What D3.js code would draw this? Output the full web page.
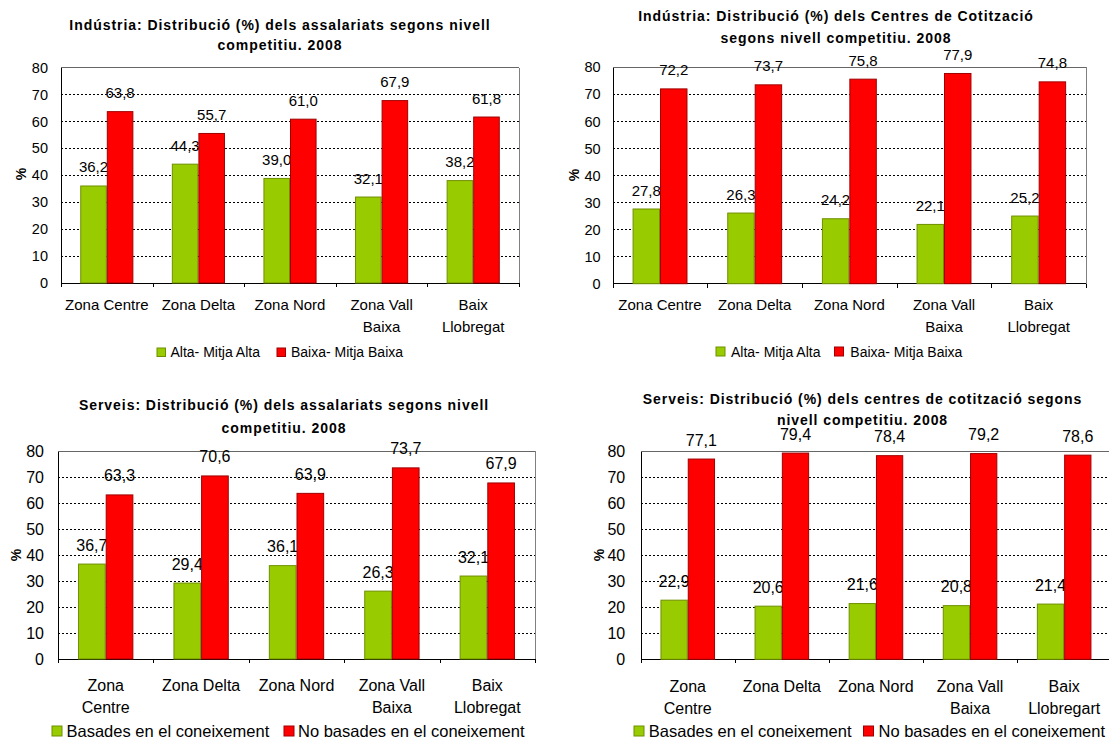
<!DOCTYPE html>
<html>
<head>
<meta charset="utf-8">
<script src="https://cdn.jsdelivr.net/npm/d3@7"></script>
<style>
  body { margin: 0; background: #fff; }
  svg { display: block; }
  text { font-family: "Liberation Sans", Arial, sans-serif; fill: #000; }
</style>
</head>
<body>
<svg id="chart" width="1109" height="740"></svg>
<script>
// ---------- DATA ----------
const categoriesTop = ["Zona Centre", "Zona Delta", "Zona Nord", "Zona Vall\nBaixa", "Baix\nLlobregat"];
const categoriesServeisAssal = ["Zona\nCentre", "Zona Delta", "Zona Nord", "Zona Vall\nBaixa", "Baix\nLlobregat"];
const categoriesServeisCentres = ["Zona\nCentre", "Zona Delta", "Zona Nord", "Zona Vall\nBaixa", "Baix\nLlobregart"];

const seriesIndustria = ["Alta- Mitja Alta", "Baixa- Mitja Baixa"];
const seriesServeis = ["Basades en el coneixement", "No basades en el coneixement"];

const indAssalAlta  = [36.2, 44.3, 39.0, 32.1, 38.2];
const indAssalBaixa = [63.8, 55.7, 61.0, 67.9, 61.8];

const indCentresAlta  = [27.8, 26.3, 24.2, 22.1, 25.2];
const indCentresBaixa = [72.2, 73.7, 75.8, 77.9, 74.8];

const servAssalBasades   = [36.7, 29.4, 36.1, 26.3, 32.1];
const servAssalNoBasades = [63.3, 70.6, 63.9, 73.7, 67.9];

const servCentresBasades   = [22.9, 20.6, 21.6, 20.8, 21.4];
const servCentresNoBasades = [77.1, 79.4, 78.4, 79.2, 78.6];

const yTicks = [0, 10, 20, 30, 40, 50, 60, 70, 80];

const titles = [
  ["Indústria: Distribució (%) dels assalariats segons nivell", "competitiu. 2008"],
  ["Indústria: Distribució (%) dels Centres de Cotització", "segons nivell competitiu. 2008"],
  ["Serveis: Distribució (%) dels assalariats segons nivell", "competitiu. 2008"],
  ["Serveis: Distribució (%) dels centres de cotització segons", "nivell competitiu. 2008"]
];

// ---------- STYLE ----------
const GREEN = "#99CC00", GREEN_EDGE = "#6F8F00";
const RED = "#FF0000", RED_EDGE = "#A00000";

// ---------- LAYOUT (per panel) ----------
const panels = [
  { cats: categoriesTop, s1: indAssalAlta, s2: indAssalBaixa, names: seriesIndustria, title: titles[0],
    left: 61, right: 519, top: 67.5, bottom: 283,
    titleX: 280, titleY: [29.5, 49.5],
    pctX: 26, pctY: 174,
    tickGap: 13, tickFont: 14.5, catFont: 15, catY: 310, catLine: 22, valFont: 15,
    legY: 357, legFont: 14, legSq: 8.5, legX: [157, 277], legTextX: [170.5, 291] },
  { cats: categoriesTop, s1: indCentresAlta, s2: indCentresBaixa, names: seriesIndustria, title: titles[1],
    left: 612.7, right: 1086, top: 67.3, bottom: 283.7,
    titleX: 836, titleY: [21, 42.7],
    pctX: 579, pctY: 175,
    tickGap: 12, tickFont: 14.5, catFont: 15, catY: 310, catLine: 21.5, valFont: 15,
    legY: 356.5, legFont: 14, legSq: 9, legX: [716, 834.5], legTextX: [731, 850.3] },
  { cats: categoriesServeisAssal, s1: servAssalBasades, s2: servAssalNoBasades, names: seriesServeis, title: titles[2],
    left: 58, right: 535, top: 451, bottom: 659,
    titleX: 284, titleY: [410, 432.5],
    pctX: 20.5, pctY: 555,
    tickGap: 14, tickFont: 16, catFont: 16, catY: 691, catLine: 22, valFont: 16,
    legY: 736.5, legFont: 16.5, legSq: 10, legX: [52, 284], legTextX: [66.5, 298] },
  { cats: categoriesServeisCentres, s1: servCentresBasades, s2: servCentresNoBasades, names: seriesServeis, title: titles[3],
    left: 640.7, right: 1111.2, top: 451, bottom: 659.3,
    titleX: 862.5, titleY: [403.5, 425],
    pctX: 603.5, pctY: 555,
    tickGap: 15.5, tickFont: 16, catFont: 16, catY: 691.5, catLine: 22, valFont: 16,
    legY: 736.5, legFont: 16.5, legSq: 10, legX: [634, 863.5], legTextX: [648.8, 878.5] }
];

const fmt = v => d3.format(".1f")(v).replace(".", ",");
const svg = d3.select("#chart");

panels.forEach(p => {
  const g = svg.append("g");
  const n = p.cats.length;

  const x = d3.scaleBand().domain(p.cats).range([p.left, p.right])
    .paddingInner(0.42).paddingOuter(0.21);
  const xs = d3.scaleBand().domain([0, 1]).range([0, x.bandwidth()]);
  const y = d3.scaleLinear().domain([0, 80]).range([p.bottom, p.top]);
  const xb = d3.scaleLinear().domain([0, n]).range([p.left, p.right]);

  // Title
  const t = g.append("text")
    .attr("x", p.titleX).attr("text-anchor", "middle")
    .style("font-weight", "bold").style("font-size", "14px").style("letter-spacing", "0.95px");
  p.title.forEach((line, i) => {
    g.append("text").attr("x", p.titleX).attr("y", p.titleY[i]).attr("text-anchor", "middle")
      .style("font-weight", "bold").style("font-size", "14px").style("letter-spacing", "0.95px")
      .text(line);
  });
  t.remove();

  // Gridlines (dashed)
  g.append("g").selectAll("line").data(yTicks.filter(v => v > 0)).join("line")
    .attr("x1", p.left).attr("x2", p.right)
    .attr("y1", d => y(d)).attr("y2", d => y(d))
    .attr("stroke", "#000").attr("stroke-width", 1).attr("stroke-dasharray", "2,2")
    .attr("shape-rendering", "crispEdges");

  // Plot border (top / right)
  g.append("line").attr("x1", p.left).attr("x2", p.right).attr("y1", y(80)).attr("y2", y(80))
    .attr("stroke", "#666").attr("shape-rendering", "crispEdges");
  g.append("line").attr("x1", p.right).attr("x2", p.right).attr("y1", y(80)).attr("y2", y(0))
    .attr("stroke", "#808080").attr("shape-rendering", "crispEdges");

  // Y axis
  const ya = g.append("g").attr("transform", `translate(${p.left},0)`)
    .call(d3.axisLeft(y).tickValues(yTicks).tickSize(0).tickPadding(p.tickGap).tickFormat(d3.format("d")));
  ya.select(".domain").attr("stroke", "#000").attr("shape-rendering", "crispEdges");
  ya.selectAll("text").style("font-size", p.tickFont + "px").style("font-family", '"Liberation Sans", Arial, sans-serif');

  // X axis ticks at band boundaries
  const xa = g.append("g").attr("transform", `translate(0,${p.bottom})`)
    .call(d3.axisBottom(xb).tickValues(d3.range(0, n + 1)).tickSize(4).tickFormat(""));
  xa.select(".domain").attr("d", `M${p.left},0H${p.right}`).attr("stroke", "#000").attr("shape-rendering", "crispEdges");
  xa.selectAll(".tick line").attr("stroke", "#000").attr("shape-rendering", "crispEdges");

  // Category labels
  p.cats.forEach(c => {
    const lines = c.split("\n");
    const tx = g.append("text").attr("text-anchor", "middle").style("font-size", p.catFont + "px");
    lines.forEach((ln, i) => {
      tx.append("tspan").attr("x", x(c) + x.bandwidth() / 2).attr("y", p.catY + i * p.catLine).text(ln);
    });
  });

  const rows = p.cats.map((c, i) => ({ c, a: p.s1[i], b: p.s2[i] }));

  // Series 1 bars + labels
  g.append("g").selectAll("rect").data(rows).join("rect")
    .attr("x", d => x(d.c) + xs(0) + 0.5).attr("width", xs.bandwidth() - 1)
    .attr("y", d => y(d.a) + 0.5).attr("height", d => y(0) - y(d.a) - 0.5)
    .attr("fill", GREEN).attr("stroke", GREEN_EDGE).attr("stroke-width", 1);
  g.append("g").selectAll("text").data(rows).join("text")
    .attr("x", d => x(d.c) + xs(0) + xs.bandwidth() / 2).attr("y", d => y(d.a) - 13)
    .attr("text-anchor", "middle").style("font-size", p.valFont + "px")
    .text(d => fmt(d.a));

  // Series 2 bars + labels
  g.append("g").selectAll("rect").data(rows).join("rect")
    .attr("x", d => x(d.c) + xs(1) + 0.5).attr("width", xs.bandwidth() - 1)
    .attr("y", d => y(d.b) + 0.5).attr("height", d => y(0) - y(d.b) - 0.5)
    .attr("fill", RED).attr("stroke", RED_EDGE).attr("stroke-width", 1);
  g.append("g").selectAll("text").data(rows).join("text")
    .attr("x", d => x(d.c) + xs(1) + xs.bandwidth() / 2).attr("y", d => y(d.b) - 13)
    .attr("text-anchor", "middle").style("font-size", p.valFont + "px")
    .text(d => fmt(d.b));

  // Y axis title
  g.append("text")
    .attr("transform", `translate(${p.pctX},${p.pctY}) rotate(-90)`)
    .attr("text-anchor", "middle").style("font-weight", "bold").style("font-size", "14px")
    .text("%");

  // Legend
  [GREEN, RED].forEach((col, i) => {
    g.append("rect")
      .attr("x", p.legX[i]).attr("y", p.legY - p.legSq - 0.5)
      .attr("width", p.legSq).attr("height", p.legSq)
      .attr("fill", col).attr("stroke", i === 0 ? GREEN_EDGE : RED_EDGE);
    g.append("text").attr("x", p.legTextX[i]).attr("y", p.legY)
      .style("font-size", p.legFont + "px").text(p.names[i]);
  });
});
</script>
</body>
</html>
